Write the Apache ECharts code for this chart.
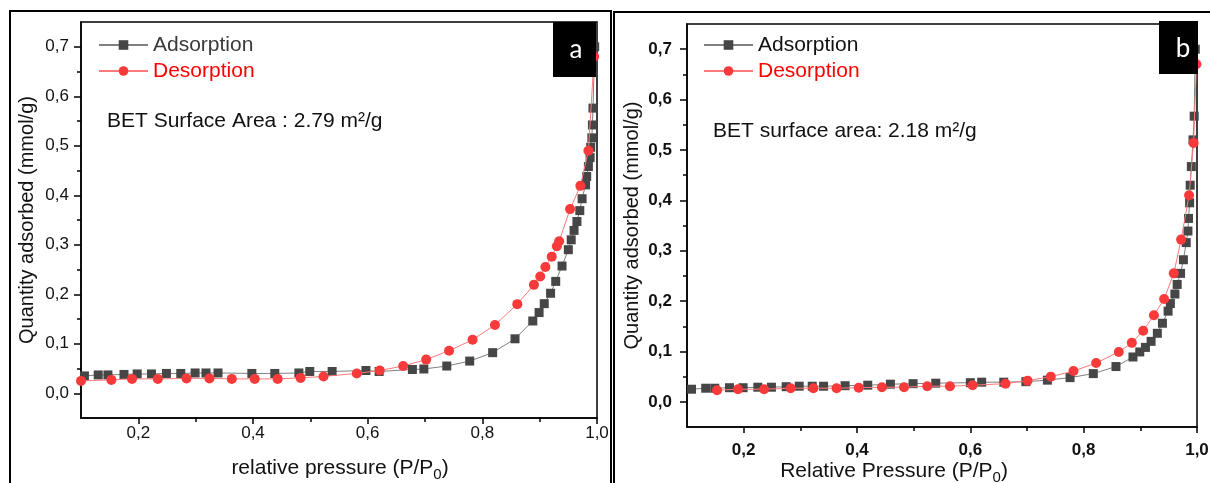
<!DOCTYPE html>
<html><head><meta charset="utf-8">
<script src="https://cdn.jsdelivr.net/npm/echarts@6/dist/echarts.min.js"></script>
<style>html,body{margin:0;padding:0;background:#fff}#c{width:1210px;height:483px}</style>
</head><body><div id="c"></div>
<script>
// ---- data ----
const adsA_x = [0.106,0.130,0.147,0.175,0.198,0.223,0.249,0.274,0.299,0.318,0.339,0.398,0.438,0.480,0.499,0.538,0.597,0.620,0.678,0.698,0.738,0.778,0.818,0.857,0.888,0.899,0.908,0.919,0.928,0.939,0.950,0.955,0.960,0.965,0.970,0.974,0.980,0.982,0.985,0.988,0.989,0.991,0.992,0.993,0.996];
const adsA_y = [0.035,0.037,0.037,0.038,0.039,0.039,0.040,0.040,0.041,0.041,0.041,0.040,0.040,0.041,0.044,0.044,0.046,0.044,0.048,0.049,0.055,0.065,0.082,0.110,0.146,0.163,0.181,0.202,0.226,0.257,0.290,0.310,0.329,0.347,0.369,0.393,0.421,0.438,0.458,0.476,0.497,0.516,0.542,0.576,0.700];
const desA_x = [0.100,0.153,0.189,0.234,0.284,0.324,0.363,0.403,0.443,0.483,0.523,0.581,0.621,0.662,0.702,0.742,0.783,0.822,0.861,0.890,0.901,0.910,0.921,0.930,0.934,0.953,0.971,0.985,0.995];
const desA_y = [0.025,0.027,0.029,0.029,0.030,0.030,0.029,0.029,0.029,0.031,0.034,0.040,0.046,0.055,0.068,0.086,0.108,0.138,0.180,0.219,0.236,0.255,0.276,0.297,0.307,0.372,0.419,0.490,0.680];
const adsB_x = [0.108,0.133,0.149,0.175,0.199,0.225,0.249,0.275,0.298,0.321,0.341,0.379,0.419,0.459,0.499,0.539,0.600,0.620,0.659,0.698,0.736,0.776,0.817,0.857,0.887,0.899,0.909,0.919,0.930,0.939,0.949,0.953,0.961,0.965,0.971,0.976,0.981,0.984,0.985,0.987,0.988,0.990,0.993,0.995,0.997];
const adsB_y = [0.025,0.027,0.027,0.028,0.028,0.029,0.029,0.030,0.031,0.031,0.031,0.032,0.033,0.035,0.036,0.037,0.038,0.039,0.039,0.040,0.043,0.048,0.056,0.070,0.089,0.099,0.108,0.120,0.136,0.156,0.180,0.195,0.214,0.233,0.255,0.282,0.316,0.339,0.364,0.395,0.430,0.467,0.520,0.567,0.700];
const desB_x = [0.153,0.190,0.236,0.283,0.323,0.364,0.403,0.444,0.483,0.524,0.564,0.604,0.662,0.701,0.742,0.782,0.822,0.862,0.885,0.905,0.924,0.942,0.959,0.972,0.986,0.994,0.999];
const desB_y = [0.023,0.025,0.025,0.027,0.027,0.027,0.028,0.029,0.029,0.031,0.031,0.033,0.036,0.042,0.050,0.061,0.077,0.099,0.117,0.141,0.172,0.204,0.255,0.322,0.410,0.514,0.670];

const xMajorTicks = [0.2,0.4,0.6,0.8,1.0];
const xMinorTicks = [0.3,0.5,0.7,0.9];
const yMajorTicks = [0,0.1,0.2,0.3,0.4,0.5,0.6,0.7];
const yMinorTicks = [0.05,0.15,0.25,0.35,0.45,0.55,0.65];
const seriesNames = ['Adsorption','Desorption'];
const betA = 'BET Surface Area : 2.79 m²/g';
const betB = 'BET surface area: 2.18 m²/g';
const xNameA = ['relative pressure (P/P', '0', ')'];
const xNameB = ['Relative Pressure (P/P', '0', ')'];
const yName = 'Quantity adsorbed (mmol/g)';

const FONT = '"Liberation Sans", Arial, sans-serif';
const zip = (xs, ys) => xs.map((x, i) => [x, ys[i]]);
const fmt = v => Number(v).toFixed(1).replace('.', ',');

const mctx = document.createElement('canvas').getContext('2d');
function tw(text, font) { mctx.font = font; return mctx.measureText(text).width; }

// axis title with a subscript, as real text pieces
function subName(parts, cx, cy) {
  const fMain = '21px ' + FONT, fSub = '15px ' + FONT;
  const w0 = tw(parts[0], fMain), w1 = tw(parts[1], fSub), w2 = tw(parts[2], fMain);
  const x0 = cx - (w0 + w1 + w2) / 2;
  const base = { fill: '#111', textVerticalAlign: 'middle', textAlign: 'left' };
  return [
    { type: 'text', x: x0, y: cy, style: Object.assign({ text: parts[0], font: fMain }, base), silent: true, z: 60 },
    { type: 'text', x: x0 + w0, y: cy + 7, style: Object.assign({ text: parts[1], font: fSub }, base), silent: true, z: 60 },
    { type: 'text', x: x0 + w0 + w1, y: cy, style: Object.assign({ text: parts[2], font: fMain }, base), silent: true, z: 60 }
  ];
}

function xMajor(grid, bold, labelMargin) {
  return {
    type: 'value', gridIndex: grid, min: 0.1, max: 1.0, position: 'bottom',
    axisLine: { show: true, onZero: false, lineStyle: { color: '#000', width: 1.5 } },
    axisTick: { show: true, length: 6, customValues: xMajorTicks, lineStyle: { color: '#000', width: 1.5 } },
    axisLabel: { customValues: xMajorTicks, formatter: fmt, margin: labelMargin, fontSize: 17,
      color: '#111', fontWeight: bold ? 'bold' : 'normal', fontFamily: FONT },
    splitLine: { show: false }
  };
}
function xMinor(grid) {
  return {
    type: 'value', gridIndex: grid, min: 0.1, max: 1.0, position: 'bottom',
    axisLine: { show: false, onZero: false }, axisLabel: { show: false }, splitLine: { show: false },
    axisTick: { show: true, length: 4, customValues: xMinorTicks, lineStyle: { color: '#000', width: 1.5 } }
  };
}
function yMajor(grid, bold, labelMargin, nameGap) {
  return {
    type: 'value', gridIndex: grid, min: -0.05, max: 0.75, position: 'left',
    axisLine: { show: true, onZero: false, lineStyle: { color: '#000', width: 1.5 } },
    axisTick: { show: true, length: 7, customValues: yMajorTicks, lineStyle: { color: '#000', width: 1.5 } },
    axisLabel: { customValues: yMajorTicks, formatter: fmt, margin: labelMargin, fontSize: 17,
      color: '#111', fontWeight: bold ? 'bold' : 'normal', fontFamily: FONT },
    splitLine: { show: false },
    name: yName, nameLocation: 'middle', nameGap: nameGap,
    nameTextStyle: { fontSize: 20, fontFamily: FONT, color: '#111' }
  };
}
function yMinor(grid) {
  return {
    type: 'value', gridIndex: grid, min: -0.05, max: 0.75, position: 'left',
    axisLine: { show: false, onZero: false }, axisLabel: { show: false }, splitLine: { show: false },
    axisTick: { show: true, length: 4, customValues: yMinorTicks, lineStyle: { color: '#000', width: 1.5 } }
  };
}
function adsSeries(xi, yi, data) {
  return { name: seriesNames[0], type: 'line', xAxisIndex: xi, yAxisIndex: yi, data: data,
    symbol: 'rect', symbolSize: 9, showSymbol: true, showAllSymbol: true,
    lineStyle: { color: '#808080', width: 1 }, itemStyle: { color: '#464646' }, z: 2 };
}
function desSeries(xi, yi, data) {
  return { name: seriesNames[1], type: 'line', xAxisIndex: xi, yAxisIndex: yi, data: data,
    symbol: 'circle', symbolSize: 10, showSymbol: true, showAllSymbol: true,
    lineStyle: { color: '#ff7a7a', width: 1 }, itemStyle: { color: '#f83a3a' }, z: 3 };
}
function legend(left, adsColor) {
  return {
    left: left, top: 34, padding: 0, orient: 'vertical', itemWidth: 49, itemHeight: 12, itemGap: 4,
    textStyle: { fontSize: 21, fontFamily: FONT, lineHeight: 22 },
    data: [
      { name: seriesNames[0], textStyle: { color: adsColor } },
      { name: seriesNames[1], textStyle: { color: '#ff0000' } }
    ],
    selectedMode: false
  };
}

const chart = echarts.init(document.getElementById('c'), null, { renderer: 'canvas' });
chart.setOption({
  animation: false,
  backgroundColor: '#fff',
  grid: [
    { left: 81, top: 22, width: 516, height: 396, show: true, borderColor: '#000', borderWidth: 1.5, outerBoundsMode: 'none', containLabel: false },
    { left: 687, top: 24, width: 510, height: 403, show: true, borderColor: '#000', borderWidth: 1.5, outerBoundsMode: 'none', containLabel: false }
  ],
  xAxis: [ xMajor(0, false, 7), xMinor(0), xMajor(1, true, 15), xMinor(1) ],
  yAxis: [ yMajor(0, false, 12, 44), yMinor(0), yMajor(1, true, 15, 45), yMinor(1) ],
  legend: [legend(98, '#3a3a3a'), legend(703, '#111')],
  series: [
    adsSeries(0, 0, zip(adsA_x, adsA_y)),
    desSeries(0, 0, zip(desA_x, desA_y)),
    adsSeries(2, 2, zip(adsB_x, adsB_y)),
    desSeries(2, 2, zip(desB_x, desB_y))
  ],
  graphic: [
    { type: 'rect', shape: { x: 10, y: 11, width: 601, height: 520 }, style: { fill: 'none', stroke: '#000', lineWidth: 2 }, z: 50, silent: true },
    { type: 'rect', shape: { x: 614, y: 12, width: 620, height: 520 }, style: { fill: 'none', stroke: '#000', lineWidth: 2 }, z: 50, silent: true },
    { type: 'rect', shape: { x: 553, y: 22, width: 43, height: 55 }, style: { fill: '#000' }, z: 100, silent: true },
    { type: 'text', x: 576, y: 50, style: { text: 'a', fill: '#fff', font: '26px Lato, "Open Sans", sans-serif', textAlign: 'center', textVerticalAlign: 'middle' }, z: 101, silent: true },
    { type: 'rect', shape: { x: 1159, y: 21, width: 39, height: 53 }, style: { fill: '#000' }, z: 100, silent: true },
    { type: 'text', x: 1183, y: 49, style: { text: 'b', fill: '#fff', font: '26px Lato, "Open Sans", sans-serif', textAlign: 'center', textVerticalAlign: 'middle' }, z: 101, silent: true },
    { type: 'text', x: 107, y: 121, style: { text: betA, fill: '#111', font: '21px ' + FONT, textVerticalAlign: 'middle' }, z: 60, silent: true },
    { type: 'text', x: 713, y: 131, style: { text: betB, fill: '#111', font: '21px ' + FONT, textVerticalAlign: 'middle' }, z: 60, silent: true }
  ].concat(subName(xNameA, 340, 468), subName(xNameB, 894, 471))
});
</script>
</body></html>
